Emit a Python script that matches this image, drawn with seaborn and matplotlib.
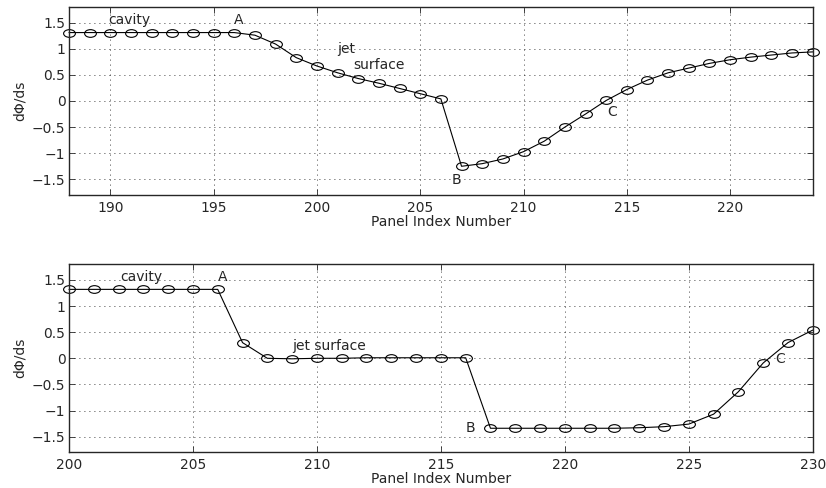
import numpy as np
import pandas as pd
import seaborn as sns
import matplotlib
matplotlib.use("Agg")
import matplotlib.pyplot as plt
from matplotlib.path import Path
from matplotlib.transforms import Affine2D

# top panel: panels 188..224
top_idx = list(range(188, 225))
top_vals = [1.31, 1.31, 1.31, 1.31, 1.31, 1.31, 1.31, 1.31, 1.31, 1.26, 1.09,
            0.83, 0.67, 0.54, 0.43, 0.34, 0.24, 0.14, 0.04, -1.25, -1.20, -1.11,
            -0.97, -0.77, -0.50, -0.25, 0.01, 0.22, 0.40, 0.54, 0.63, 0.72, 0.79,
            0.84, 0.88, 0.92, 0.94]

# bottom panel: panels 200..230
bot_idx = list(range(200, 231))
bot_vals = [1.32, 1.32, 1.32, 1.32, 1.32, 1.32, 1.32, 0.30, 0.0, -0.01, 0.0,
            0.0, 0.01, 0.01, 0.01, 0.01, 0.01, -1.34, -1.34, -1.34, -1.34, -1.34,
            -1.34, -1.33, -1.31, -1.26, -1.07, -0.64, -0.09, 0.30, 0.54]

top_notes = [("cavity", 190.9, 1.55), ("A", 196.2, 1.55), ("jet", 201.4, 0.99),
             ("surface", 203.0, 0.68), ("B", 206.75, -1.51), ("C", 214.3, -0.21)]
bot_notes = [("cavity", 202.9, 1.55), ("A", 206.2, 1.55), ("jet surface", 210.5, 0.24),
             ("B", 216.2, -1.34), ("C", 228.7, -0.02)]

sns.set_style("ticks")
plt.rcParams["font.family"] = ["DejaVu Sans"]
plt.rcParams["font.size"] = 10

# MATLAB style circles look squashed in the picture
ellipse = Path.unit_circle().transformed(Affine2D().scale(1.0, 0.65))

fig = plt.figure(figsize=(8.26, 4.88), dpi=100)
ax1 = fig.add_axes([0.0835, 0.6004, 0.9005, 0.3853])
ax2 = fig.add_axes([0.0835, 0.0732, 0.9005, 0.3852])

panels = [(ax1, top_idx, top_vals, top_notes, (188, 224), [190, 195, 200, 205, 210, 215, 220]),
          (ax2, bot_idx, bot_vals, bot_notes, (200, 230), [200, 205, 210, 215, 220, 225, 230])]

for ax, xs, ys, notes, xlim, xt in panels:
    df = pd.DataFrame({"panel": xs, "dphi": ys})
    sns.lineplot(data=df, x="panel", y="dphi", ax=ax, color="k", lw=0.8,
                 marker=ellipse, markersize=8.5, markerfacecolor="none",
                 markeredgecolor="k", markeredgewidth=0.8, clip_on=False)
    ax.set_xlim(*xlim)
    ax.set_ylim(-1.8, 1.8)
    ax.set_xticks(xt)
    ax.set_yticks([-1.5, -1, -0.5, 0, 0.5, 1, 1.5])
    ax.set_yticklabels(["\u22121.5", "\u22121", "\u22120.5", "0", "0.5", "1", "1.5"])
    ax.grid(True, color="k", linestyle=(0, (1, 5)), lw=0.6)
    ax.tick_params(direction="in", top=True, right=True, length=4, width=0.6,
                   labelsize=10)
    ax.tick_params(axis="x", pad=4)
    ax.tick_params(axis="y", pad=2.5)
    for sp in ax.spines.values():
        sp.set_linewidth(1.0)
    ax.set_xlabel("Panel Index Number", fontsize=10, labelpad=0)
    ax.set_ylabel("d\u03a6/ds", fontsize=10, labelpad=4)
    for txt, x, y in notes:
        ax.text(x, y, txt, ha="center", va="center", fontsize=10)

fig.savefig("out.png", dpi=100)
